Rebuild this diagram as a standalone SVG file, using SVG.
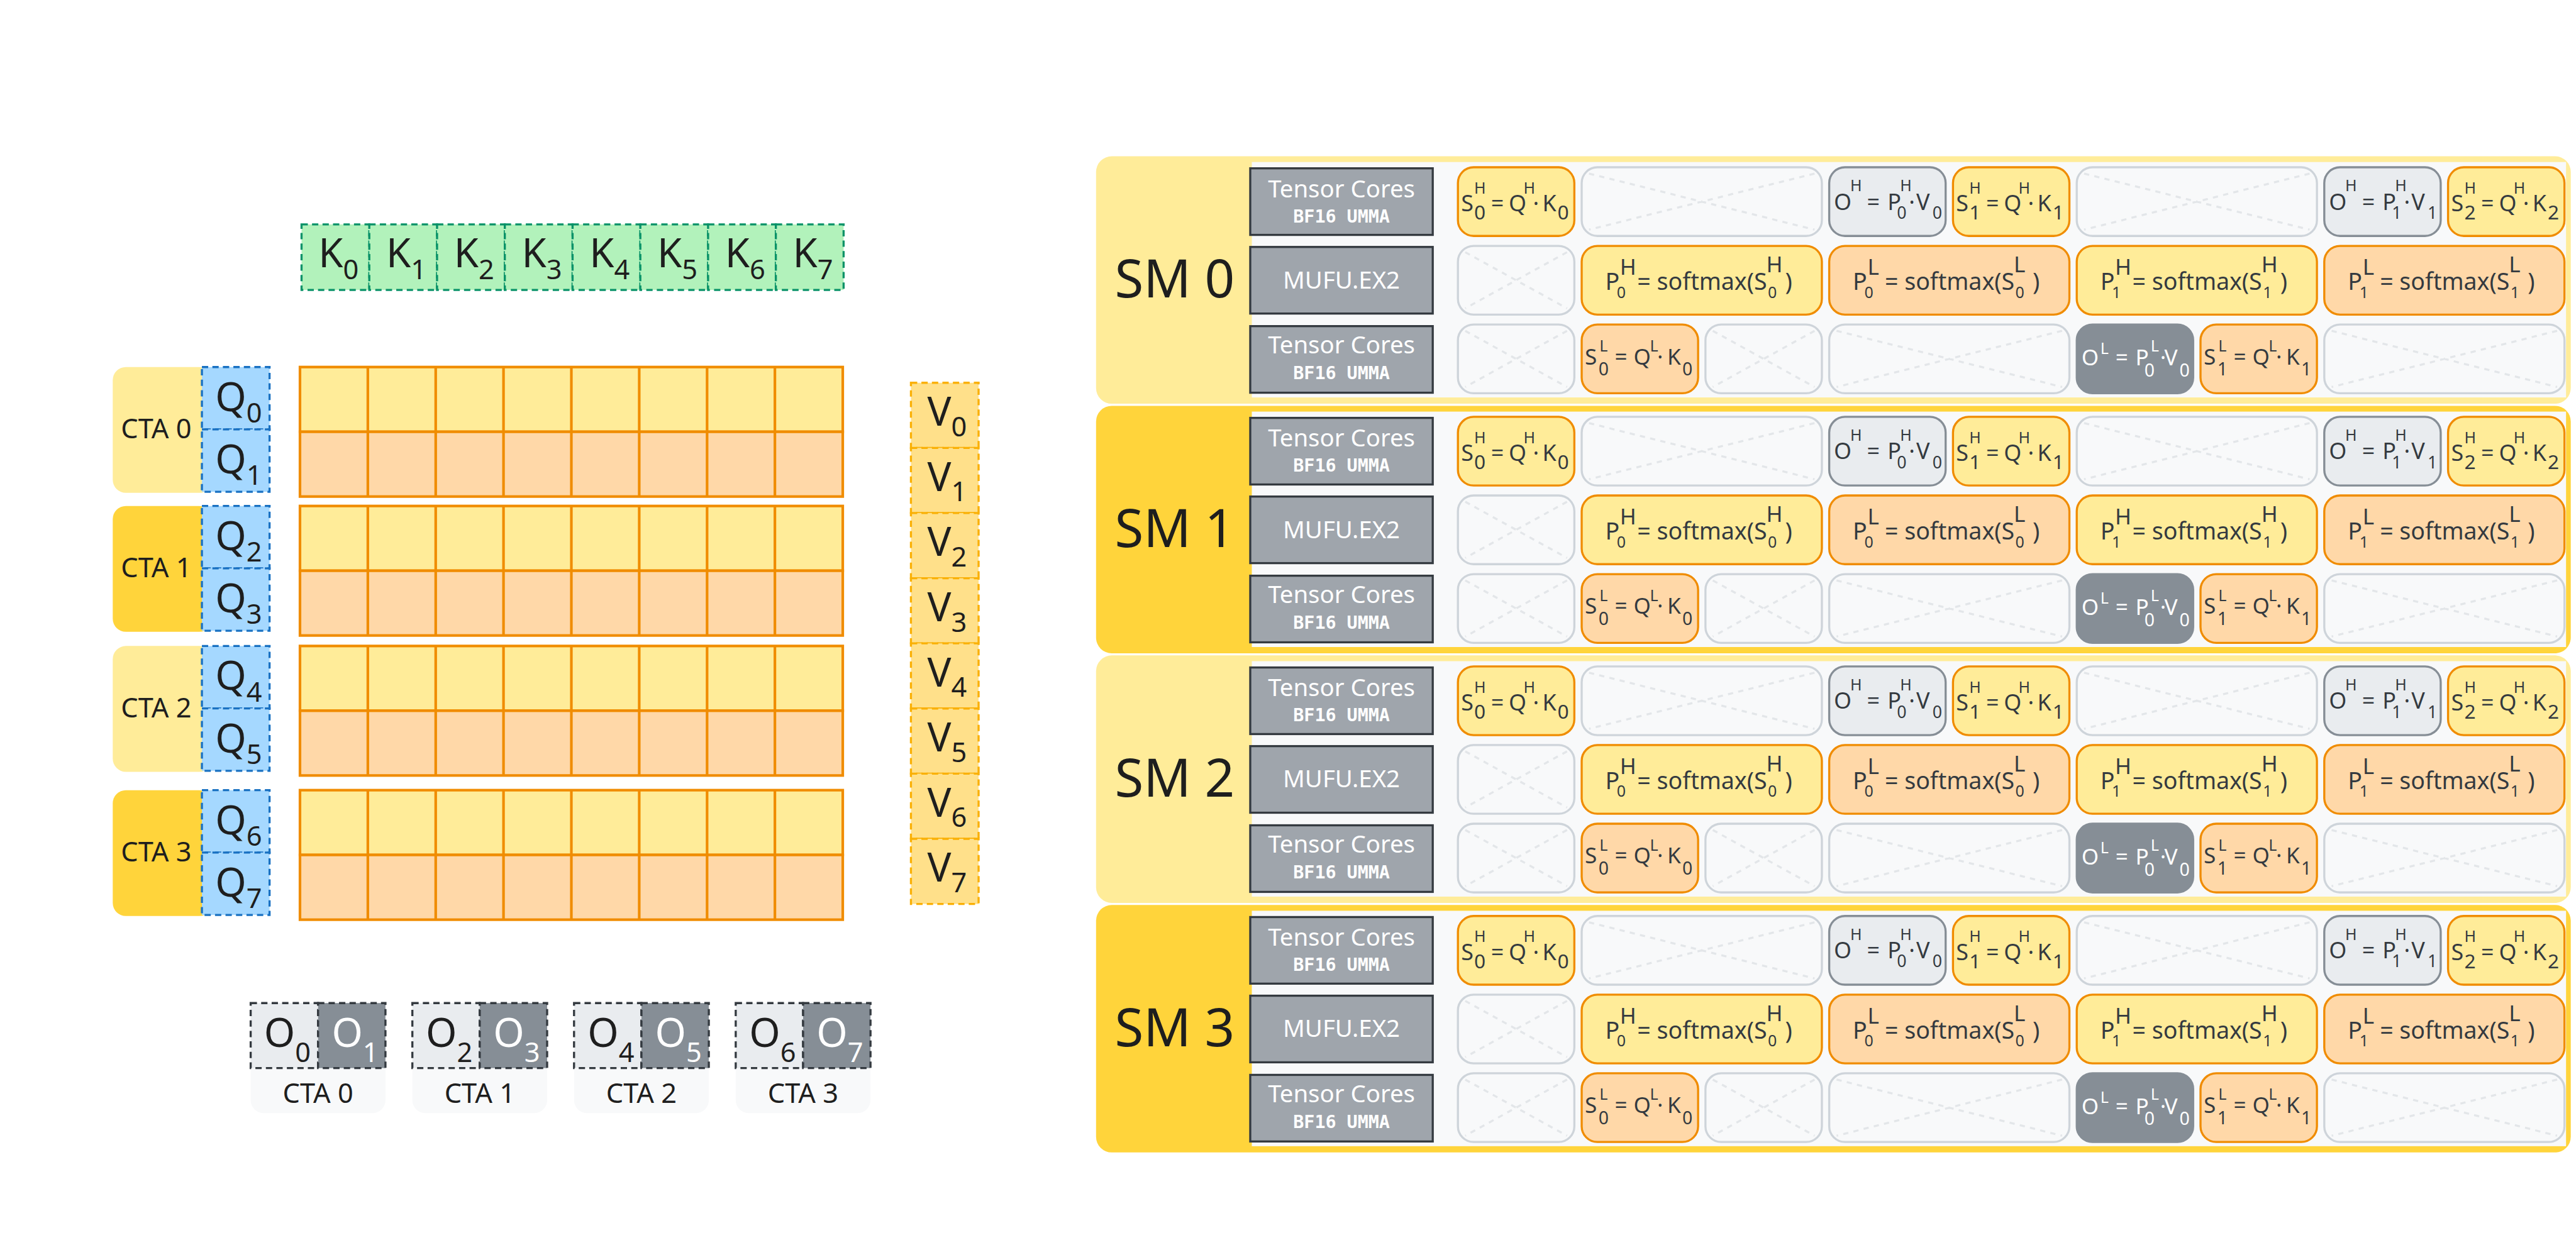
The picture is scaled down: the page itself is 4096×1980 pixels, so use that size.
<svg xmlns="http://www.w3.org/2000/svg" width="4096" height="1980" viewBox="0 0 4096 1980">
<style>
text{font-family:'Noto Sans','Open Sans',sans-serif;fill:#1e1e1e}
.kc{fill:#b2f2bb;stroke:#099268;stroke-width:4;stroke-dasharray:12 8}
.qc{fill:#a5d8ff;stroke:#1971c2;stroke-width:4;stroke-dasharray:12 8}
.vc{fill:#ffe08a;stroke:#fab005;stroke-width:4;stroke-dasharray:12 8}
.ol{fill:#e9ecef;stroke:#343a40;stroke-width:4;stroke-dasharray:12 8}
.od{fill:#868e96;stroke:#343a40;stroke-width:4;stroke-dasharray:12 8}
.lab{font-size:76px;text-anchor:middle}
.bs{font-size:52px}
.my{fill:#ffec99;stroke:#f08c00;stroke-width:5}
.mp{fill:#ffd8a8;stroke:#f08c00;stroke-width:5}
.grid{fill:none;stroke:#f08c00;stroke-width:5}
.lt{fill:#ffec99}.dk{fill:#ffd43b}
.cta{font-size:52px;text-anchor:middle}
.lbg{fill:#f8f9fa}
.panel{fill:#f8f9fa}
.unit{fill:#9fa5ac;stroke:#343a40;stroke-width:4}
.ut{fill:#fff;font-size:46px;text-anchor:middle}
.um{fill:#fff;font-family:'DejaVu Sans Mono',monospace;font-weight:bold;font-size:34px;text-anchor:middle}
.sm{font-size:100px;text-anchor:middle}
.ty{fill:#ffec99;stroke:#f08c00;stroke-width:4}
.tp{fill:#ffd8a8;stroke:#f08c00;stroke-width:4}
.tg{fill:#e9ecef;stroke:#868e96;stroke-width:4}
.td{fill:#868e96;stroke:#868e96;stroke-width:4}
.tx{fill:#f8f9fa;stroke:#ced4da;stroke-width:4}
.xd{fill:none;stroke:#e3e6e9;stroke-width:4;stroke-dasharray:10 10}
text.f{fill:#343a40}
text.w,.w{fill:#fff}
.f1{font-size:43px}.s1{font-size:30px}.u1{font-size:38px}.u4{font-size:32px}
.f2{font-size:45px}.s2{font-size:42px}.u2{font-size:30px}
.f3{font-size:42px}.s3{font-size:30px}.u3{font-size:34px}
</style>
<g transform="scale(0.83388)">
<g id="k-row">
<g id="k0"><rect class="kc" x="575" y="428" width="129.2" height="125"/><text class="lab" x="645.6" y="510">K<tspan class="bs" dy="22">0</tspan></text></g>
<g id="k1"><rect class="kc" x="704.2" y="428" width="129.2" height="125"/><text class="lab" x="774.8" y="510">K<tspan class="bs" dy="22">1</tspan></text></g>
<g id="k2"><rect class="kc" x="833.4" y="428" width="129.2" height="125"/><text class="lab" x="904" y="510">K<tspan class="bs" dy="22">2</tspan></text></g>
<g id="k3"><rect class="kc" x="962.6" y="428" width="129.2" height="125"/><text class="lab" x="1033.2" y="510">K<tspan class="bs" dy="22">3</tspan></text></g>
<g id="k4"><rect class="kc" x="1091.8" y="428" width="129.2" height="125"/><text class="lab" x="1162.4" y="510">K<tspan class="bs" dy="22">4</tspan></text></g>
<g id="k5"><rect class="kc" x="1221" y="428" width="129.2" height="125"/><text class="lab" x="1291.6" y="510">K<tspan class="bs" dy="22">5</tspan></text></g>
<g id="k6"><rect class="kc" x="1350.2" y="428" width="129.2" height="125"/><text class="lab" x="1420.8" y="510">K<tspan class="bs" dy="22">6</tspan></text></g>
<g id="k7"><rect class="kc" x="1479.4" y="428" width="129.2" height="125"/><text class="lab" x="1550" y="510">K<tspan class="bs" dy="22">7</tspan></text></g>
</g>
<g id="cta-labels">
<g id="cta0"><rect class="lt" x="215" y="700" width="190" height="240" rx="25"/><text class="cta" x="298" y="836">CTA 0</text></g>
<g id="cta1"><rect class="dk" x="215" y="965" width="190" height="240" rx="25"/><text class="cta" x="298" y="1101">CTA 1</text></g>
<g id="cta2"><rect class="lt" x="215" y="1232" width="190" height="240" rx="25"/><text class="cta" x="298" y="1368">CTA 2</text></g>
<g id="cta3"><rect class="dk" x="215" y="1507" width="190" height="240" rx="25"/><text class="cta" x="298" y="1643">CTA 3</text></g>
</g>
<g id="q-col">
<g id="q0"><rect class="qc" x="385" y="700" width="129" height="119"/><text class="lab" x="455" y="784">Q<tspan class="bs" dy="22">0</tspan></text></g>
<g id="q1"><rect class="qc" x="385" y="819" width="129" height="119"/><text class="lab" x="455" y="903">Q<tspan class="bs" dy="22">1</tspan></text></g>
<g id="q2"><rect class="qc" x="385" y="965" width="129" height="119"/><text class="lab" x="455" y="1049">Q<tspan class="bs" dy="22">2</tspan></text></g>
<g id="q3"><rect class="qc" x="385" y="1084" width="129" height="119"/><text class="lab" x="455" y="1168">Q<tspan class="bs" dy="22">3</tspan></text></g>
<g id="q4"><rect class="qc" x="385" y="1232" width="129" height="119"/><text class="lab" x="455" y="1316">Q<tspan class="bs" dy="22">4</tspan></text></g>
<g id="q5"><rect class="qc" x="385" y="1351" width="129" height="119"/><text class="lab" x="455" y="1435">Q<tspan class="bs" dy="22">5</tspan></text></g>
<g id="q6"><rect class="qc" x="385" y="1507" width="129" height="119"/><text class="lab" x="455" y="1591">Q<tspan class="bs" dy="22">6</tspan></text></g>
<g id="q7"><rect class="qc" x="385" y="1626" width="129" height="119"/><text class="lab" x="455" y="1710">Q<tspan class="bs" dy="22">7</tspan></text></g>
</g>
<g id="matrix">
<g id="mb0"><rect class="my" x="572" y="700" width="1035" height="123.5"/><rect class="mp" x="572" y="823.5" width="1035" height="123.5"/><path class="grid" d="M701.4 700v247M830.8 700v247M960.1 700v247M1089.5 700v247M1218.9 700v247M1348.3 700v247M1477.6 700v247"/></g>
<g id="mb1"><rect class="my" x="572" y="965" width="1035" height="123.5"/><rect class="mp" x="572" y="1088.5" width="1035" height="123.5"/><path class="grid" d="M701.4 965v247M830.8 965v247M960.1 965v247M1089.5 965v247M1218.9 965v247M1348.3 965v247M1477.6 965v247"/></g>
<g id="mb2"><rect class="my" x="572" y="1232" width="1035" height="123.5"/><rect class="mp" x="572" y="1355.5" width="1035" height="123.5"/><path class="grid" d="M701.4 1232v247M830.8 1232v247M960.1 1232v247M1089.5 1232v247M1218.9 1232v247M1348.3 1232v247M1477.6 1232v247"/></g>
<g id="mb3"><rect class="my" x="572" y="1507" width="1035" height="123.5"/><rect class="mp" x="572" y="1630.5" width="1035" height="123.5"/><path class="grid" d="M701.4 1507v247M830.8 1507v247M960.1 1507v247M1089.5 1507v247M1218.9 1507v247M1348.3 1507v247M1477.6 1507v247"/></g>
</g>
<g id="v-col">
<g id="v0"><rect class="vc" x="1737" y="730" width="129" height="124.25"/><text class="lab" x="1806" y="812">V<tspan class="bs" dy="20">0</tspan></text></g>
<g id="v1"><rect class="vc" x="1737" y="854.25" width="129" height="124.25"/><text class="lab" x="1806" y="936.25">V<tspan class="bs" dy="20">1</tspan></text></g>
<g id="v2"><rect class="vc" x="1737" y="978.5" width="129" height="124.25"/><text class="lab" x="1806" y="1060.5">V<tspan class="bs" dy="20">2</tspan></text></g>
<g id="v3"><rect class="vc" x="1737" y="1102.75" width="129" height="124.25"/><text class="lab" x="1806" y="1184.75">V<tspan class="bs" dy="20">3</tspan></text></g>
<g id="v4"><rect class="vc" x="1737" y="1227" width="129" height="124.25"/><text class="lab" x="1806" y="1309">V<tspan class="bs" dy="20">4</tspan></text></g>
<g id="v5"><rect class="vc" x="1737" y="1351.25" width="129" height="124.25"/><text class="lab" x="1806" y="1433.25">V<tspan class="bs" dy="20">5</tspan></text></g>
<g id="v6"><rect class="vc" x="1737" y="1475.5" width="129" height="124.25"/><text class="lab" x="1806" y="1557.5">V<tspan class="bs" dy="20">6</tspan></text></g>
<g id="v7"><rect class="vc" x="1737" y="1599.75" width="129" height="124.25"/><text class="lab" x="1806" y="1681.75">V<tspan class="bs" dy="20">7</tspan></text></g>
</g>
<g id="o-row">
<g id="o-cta0"><rect class="lbg" x="478" y="1913" width="257" height="210" rx="25"/><rect class="ol" x="478" y="1913" width="128.5" height="124"/><rect class="od" x="606.5" y="1913" width="128.5" height="124"/><text class="lab" x="548" y="1997">O<tspan class="bs" dy="28">0</tspan></text><text class="lab w" x="677" y="1997">O<tspan class="bs w" dy="28">1</tspan></text><text class="cta" x="606.5" y="2104">CTA 0</text></g>
<g id="o-cta1"><rect class="lbg" x="786.3" y="1913" width="257" height="210" rx="25"/><rect class="ol" x="786.3" y="1913" width="128.5" height="124"/><rect class="od" x="914.8" y="1913" width="128.5" height="124"/><text class="lab" x="856.5" y="1997">O<tspan class="bs" dy="28">2</tspan></text><text class="lab w" x="985" y="1997">O<tspan class="bs w" dy="28">3</tspan></text><text class="cta" x="914.8" y="2104">CTA 1</text></g>
<g id="o-cta2"><rect class="lbg" x="1094.6" y="1913" width="257" height="210" rx="25"/><rect class="ol" x="1094.6" y="1913" width="128.5" height="124"/><rect class="od" x="1223.1" y="1913" width="128.5" height="124"/><text class="lab" x="1165" y="1997">O<tspan class="bs" dy="28">4</tspan></text><text class="lab w" x="1293.5" y="1997">O<tspan class="bs w" dy="28">5</tspan></text><text class="cta" x="1223.1" y="2104">CTA 2</text></g>
<g id="o-cta3"><rect class="lbg" x="1402.9" y="1913" width="257" height="210" rx="25"/><rect class="ol" x="1402.9" y="1913" width="128.5" height="124"/><rect class="od" x="1531.4" y="1913" width="128.5" height="124"/><text class="lab" x="1473" y="1997">O<tspan class="bs" dy="28">6</tspan></text><text class="lab w" x="1601.5" y="1997">O<tspan class="bs w" dy="28">7</tspan></text><text class="cta" x="1531.4" y="2104">CTA 3</text></g>
</g>

<g id="sm0" transform="translate(0,298)">
<rect class="lt" x="2090" y="0" width="2812" height="472" rx="30"/>
<rect class="panel" x="2387" y="11" width="2506" height="449"/>
<text class="sm" x="2240" y="269">SM 0</text>
<g id="sm0-tch"><rect class="unit" x="2384" y="23" width="348" height="127"/><text class="ut" x="2558" y="78">Tensor Cores</text><text class="um" x="2558" y="126">BF16 UMMA</text></g>
<g id="sm0-mufu"><rect class="unit" x="2384" y="173" width="348" height="127"/><text class="ut" x="2558" y="252">MUFU.EX2</text></g>
<g id="sm0-tcl"><rect class="unit" x="2384" y="324" width="348" height="127"/><text class="ut" x="2558" y="376">Tensor Cores</text><text class="um" x="2558" y="425">BF16 UMMA</text></g>
<g id="sm0-s0h"><rect class="ty" x="2780" y="21" width="222" height="131" rx="30"/><text class="f f1"><tspan x="2786" y="105">S</tspan><tspan class="u1" x="2811" y="121">0</tspan><tspan class="s1" x="2811" y="71">H</tspan><tspan x="2843" y="105">=</tspan><tspan x="2877" y="105">Q</tspan><tspan class="s1" x="2905" y="71">H</tspan><tspan x="2923" y="105">·</tspan><tspan x="2941" y="105">K</tspan><tspan class="u1" x="2970" y="121">0</tspan></text></g>
<g id="sm0-x1"><rect class="tx" x="3016" y="21" width="458" height="131" rx="30"/><path class="xd" d="M3030 33L3460 140M3460 33L3030 140"/></g>
<g id="sm0-oh0"><rect class="tg" x="3488" y="21" width="222" height="131" rx="30"/><text class="f f1"><tspan x="3497" y="102">O</tspan><tspan class="s1" x="3528" y="67">H</tspan><tspan x="3560" y="102">=</tspan><tspan x="3599" y="102">P</tspan><tspan class="u4" x="3617" y="119">0</tspan><tspan class="s1" x="3623" y="67">H</tspan><tspan x="3640" y="102">·</tspan><tspan x="3654" y="102">V</tspan><tspan class="u4" x="3685" y="119">0</tspan></text></g>
<g id="sm0-s1h"><rect class="ty" x="3724" y="21" width="222" height="131" rx="30"/><text class="f f1"><tspan x="3730" y="105">S</tspan><tspan class="u1" x="3755" y="121">1</tspan><tspan class="s1" x="3755" y="71">H</tspan><tspan x="3787" y="105">=</tspan><tspan x="3821" y="105">Q</tspan><tspan class="s1" x="3849" y="71">H</tspan><tspan x="3867" y="105">·</tspan><tspan x="3885" y="105">K</tspan><tspan class="u1" x="3914" y="121">1</tspan></text></g>
<g id="sm0-x2"><rect class="tx" x="3960" y="21" width="458" height="131" rx="30"/><path class="xd" d="M3974 33L4404 140M4404 33L3974 140"/></g>
<g id="sm0-oh1"><rect class="tg" x="4432" y="21" width="222" height="131" rx="30"/><text class="f f1"><tspan x="4441" y="102">O</tspan><tspan class="s1" x="4472" y="67">H</tspan><tspan x="4504" y="102">=</tspan><tspan x="4543" y="102">P</tspan><tspan class="u4" x="4561" y="119">1</tspan><tspan class="s1" x="4567" y="67">H</tspan><tspan x="4584" y="102">·</tspan><tspan x="4598" y="102">V</tspan><tspan class="u4" x="4629" y="119">1</tspan></text></g>
<g id="sm0-s2h"><rect class="ty" x="4668" y="21" width="222" height="131" rx="30"/><text class="f f1"><tspan x="4674" y="105">S</tspan><tspan class="u1" x="4699" y="121">2</tspan><tspan class="s1" x="4699" y="71">H</tspan><tspan x="4731" y="105">=</tspan><tspan x="4765" y="105">Q</tspan><tspan class="s1" x="4793" y="71">H</tspan><tspan x="4811" y="105">·</tspan><tspan x="4829" y="105">K</tspan><tspan class="u1" x="4858" y="121">2</tspan></text></g>
<g id="sm0-x3"><rect class="tx" x="2780" y="171" width="222" height="131" rx="30"/><path class="xd" d="M2794 183L2988 290M2988 183L2794 290"/></g>
<g id="sm0-p0h"><rect class="ty" x="3016" y="171" width="458" height="131" rx="30"/><text class="f f2"><tspan x="3061" y="255">P</tspan><tspan class="u2" x="3083" y="270">0</tspan><tspan class="s2" x="3089" y="226">H</tspan><tspan x="3122" y="255">= softmax(S</tspan><tspan class="s2" x="3368" y="221">H</tspan><tspan class="u2" x="3371" y="270">0</tspan><tspan x="3404" y="255">)</tspan></text></g>
<g id="sm0-p0l"><rect class="tp" x="3488" y="171" width="458" height="131" rx="30"/><text class="f f2"><tspan x="3533" y="255">P</tspan><tspan class="u2" x="3555" y="270">0</tspan><tspan class="s2" x="3561" y="226">L</tspan><tspan x="3594" y="255">= softmax(S</tspan><tspan class="s2" x="3840" y="221">L</tspan><tspan class="u2" x="3843" y="270">0</tspan><tspan x="3876" y="255">)</tspan></text></g>
<g id="sm0-p1h"><rect class="ty" x="3960" y="171" width="458" height="131" rx="30"/><text class="f f2"><tspan x="4005" y="255">P</tspan><tspan class="u2" x="4027" y="270">1</tspan><tspan class="s2" x="4033" y="226">H</tspan><tspan x="4066" y="255">= softmax(S</tspan><tspan class="s2" x="4312" y="221">H</tspan><tspan class="u2" x="4315" y="270">1</tspan><tspan x="4348" y="255">)</tspan></text></g>
<g id="sm0-p1l"><rect class="tp" x="4432" y="171" width="458" height="131" rx="30"/><text class="f f2"><tspan x="4477" y="255">P</tspan><tspan class="u2" x="4499" y="270">1</tspan><tspan class="s2" x="4505" y="226">L</tspan><tspan x="4538" y="255">= softmax(S</tspan><tspan class="s2" x="4784" y="221">L</tspan><tspan class="u2" x="4787" y="270">1</tspan><tspan x="4820" y="255">)</tspan></text></g>
<g id="sm0-x4"><rect class="tx" x="2780" y="321" width="222" height="131" rx="30"/><path class="xd" d="M2794 333L2988 440M2988 333L2794 440"/></g>
<g id="sm0-s0l"><rect class="tp" x="3016" y="321" width="222" height="131" rx="30"/><text class="f f3"><tspan x="3022" y="397">S</tspan><tspan class="s3" x="3050" y="372">L</tspan><tspan class="u3" x="3048" y="418">0</tspan><tspan x="3079" y="397">=</tspan><tspan x="3115" y="397">Q</tspan><tspan class="s3" x="3146" y="372">L</tspan><tspan x="3160" y="397">·</tspan><tspan x="3179" y="397">K</tspan><tspan class="u3" x="3208" y="418">0</tspan></text></g>
<g id="sm0-x5"><rect class="tx" x="3252" y="321" width="222" height="131" rx="30"/><path class="xd" d="M3266 333L3460 440M3460 333L3266 440"/></g>
<g id="sm0-x6"><rect class="tx" x="3488" y="321" width="458" height="131" rx="30"/><path class="xd" d="M3502 333L3932 440M3932 333L3502 440"/></g>
<g id="sm0-ol"><rect class="td" x="3960" y="321" width="222" height="131" rx="30"/><text class="w f3"><tspan x="3969" y="399">O</tspan><tspan class="s3" x="4005" y="377">L</tspan><tspan x="4034" y="399">=</tspan><tspan x="4072" y="399">P</tspan><tspan class="u3" x="4089" y="420">0</tspan><tspan class="s3" x="4101" y="372">L</tspan><tspan x="4119" y="399">·</tspan><tspan x="4127" y="399">V</tspan><tspan class="u3" x="4156" y="420">0</tspan></text></g>
<g id="sm0-s1l"><rect class="tp" x="4196" y="321" width="222" height="131" rx="30"/><text class="f f3"><tspan x="4202" y="397">S</tspan><tspan class="s3" x="4230" y="372">L</tspan><tspan class="u3" x="4228" y="418">1</tspan><tspan x="4259" y="397">=</tspan><tspan x="4295" y="397">Q</tspan><tspan class="s3" x="4326" y="372">L</tspan><tspan x="4340" y="397">·</tspan><tspan x="4359" y="397">K</tspan><tspan class="u3" x="4388" y="418">1</tspan></text></g>
<g id="sm0-x7"><rect class="tx" x="4432" y="321" width="458" height="131" rx="30"/><path class="xd" d="M4446 333L4876 440M4876 333L4446 440"/></g>
</g>

<g id="sm1" transform="translate(0,774)">
<rect class="dk" x="2090" y="0" width="2812" height="472" rx="30"/>
<rect class="panel" x="2387" y="11" width="2506" height="449"/>
<text class="sm" x="2240" y="269">SM 1</text>
<g id="sm1-tch"><rect class="unit" x="2384" y="23" width="348" height="127"/><text class="ut" x="2558" y="78">Tensor Cores</text><text class="um" x="2558" y="126">BF16 UMMA</text></g>
<g id="sm1-mufu"><rect class="unit" x="2384" y="173" width="348" height="127"/><text class="ut" x="2558" y="252">MUFU.EX2</text></g>
<g id="sm1-tcl"><rect class="unit" x="2384" y="324" width="348" height="127"/><text class="ut" x="2558" y="376">Tensor Cores</text><text class="um" x="2558" y="425">BF16 UMMA</text></g>
<g id="sm1-s0h"><rect class="ty" x="2780" y="21" width="222" height="131" rx="30"/><text class="f f1"><tspan x="2786" y="105">S</tspan><tspan class="u1" x="2811" y="121">0</tspan><tspan class="s1" x="2811" y="71">H</tspan><tspan x="2843" y="105">=</tspan><tspan x="2877" y="105">Q</tspan><tspan class="s1" x="2905" y="71">H</tspan><tspan x="2923" y="105">·</tspan><tspan x="2941" y="105">K</tspan><tspan class="u1" x="2970" y="121">0</tspan></text></g>
<g id="sm1-x1"><rect class="tx" x="3016" y="21" width="458" height="131" rx="30"/><path class="xd" d="M3030 33L3460 140M3460 33L3030 140"/></g>
<g id="sm1-oh0"><rect class="tg" x="3488" y="21" width="222" height="131" rx="30"/><text class="f f1"><tspan x="3497" y="102">O</tspan><tspan class="s1" x="3528" y="67">H</tspan><tspan x="3560" y="102">=</tspan><tspan x="3599" y="102">P</tspan><tspan class="u4" x="3617" y="119">0</tspan><tspan class="s1" x="3623" y="67">H</tspan><tspan x="3640" y="102">·</tspan><tspan x="3654" y="102">V</tspan><tspan class="u4" x="3685" y="119">0</tspan></text></g>
<g id="sm1-s1h"><rect class="ty" x="3724" y="21" width="222" height="131" rx="30"/><text class="f f1"><tspan x="3730" y="105">S</tspan><tspan class="u1" x="3755" y="121">1</tspan><tspan class="s1" x="3755" y="71">H</tspan><tspan x="3787" y="105">=</tspan><tspan x="3821" y="105">Q</tspan><tspan class="s1" x="3849" y="71">H</tspan><tspan x="3867" y="105">·</tspan><tspan x="3885" y="105">K</tspan><tspan class="u1" x="3914" y="121">1</tspan></text></g>
<g id="sm1-x2"><rect class="tx" x="3960" y="21" width="458" height="131" rx="30"/><path class="xd" d="M3974 33L4404 140M4404 33L3974 140"/></g>
<g id="sm1-oh1"><rect class="tg" x="4432" y="21" width="222" height="131" rx="30"/><text class="f f1"><tspan x="4441" y="102">O</tspan><tspan class="s1" x="4472" y="67">H</tspan><tspan x="4504" y="102">=</tspan><tspan x="4543" y="102">P</tspan><tspan class="u4" x="4561" y="119">1</tspan><tspan class="s1" x="4567" y="67">H</tspan><tspan x="4584" y="102">·</tspan><tspan x="4598" y="102">V</tspan><tspan class="u4" x="4629" y="119">1</tspan></text></g>
<g id="sm1-s2h"><rect class="ty" x="4668" y="21" width="222" height="131" rx="30"/><text class="f f1"><tspan x="4674" y="105">S</tspan><tspan class="u1" x="4699" y="121">2</tspan><tspan class="s1" x="4699" y="71">H</tspan><tspan x="4731" y="105">=</tspan><tspan x="4765" y="105">Q</tspan><tspan class="s1" x="4793" y="71">H</tspan><tspan x="4811" y="105">·</tspan><tspan x="4829" y="105">K</tspan><tspan class="u1" x="4858" y="121">2</tspan></text></g>
<g id="sm1-x3"><rect class="tx" x="2780" y="171" width="222" height="131" rx="30"/><path class="xd" d="M2794 183L2988 290M2988 183L2794 290"/></g>
<g id="sm1-p0h"><rect class="ty" x="3016" y="171" width="458" height="131" rx="30"/><text class="f f2"><tspan x="3061" y="255">P</tspan><tspan class="u2" x="3083" y="270">0</tspan><tspan class="s2" x="3089" y="226">H</tspan><tspan x="3122" y="255">= softmax(S</tspan><tspan class="s2" x="3368" y="221">H</tspan><tspan class="u2" x="3371" y="270">0</tspan><tspan x="3404" y="255">)</tspan></text></g>
<g id="sm1-p0l"><rect class="tp" x="3488" y="171" width="458" height="131" rx="30"/><text class="f f2"><tspan x="3533" y="255">P</tspan><tspan class="u2" x="3555" y="270">0</tspan><tspan class="s2" x="3561" y="226">L</tspan><tspan x="3594" y="255">= softmax(S</tspan><tspan class="s2" x="3840" y="221">L</tspan><tspan class="u2" x="3843" y="270">0</tspan><tspan x="3876" y="255">)</tspan></text></g>
<g id="sm1-p1h"><rect class="ty" x="3960" y="171" width="458" height="131" rx="30"/><text class="f f2"><tspan x="4005" y="255">P</tspan><tspan class="u2" x="4027" y="270">1</tspan><tspan class="s2" x="4033" y="226">H</tspan><tspan x="4066" y="255">= softmax(S</tspan><tspan class="s2" x="4312" y="221">H</tspan><tspan class="u2" x="4315" y="270">1</tspan><tspan x="4348" y="255">)</tspan></text></g>
<g id="sm1-p1l"><rect class="tp" x="4432" y="171" width="458" height="131" rx="30"/><text class="f f2"><tspan x="4477" y="255">P</tspan><tspan class="u2" x="4499" y="270">1</tspan><tspan class="s2" x="4505" y="226">L</tspan><tspan x="4538" y="255">= softmax(S</tspan><tspan class="s2" x="4784" y="221">L</tspan><tspan class="u2" x="4787" y="270">1</tspan><tspan x="4820" y="255">)</tspan></text></g>
<g id="sm1-x4"><rect class="tx" x="2780" y="321" width="222" height="131" rx="30"/><path class="xd" d="M2794 333L2988 440M2988 333L2794 440"/></g>
<g id="sm1-s0l"><rect class="tp" x="3016" y="321" width="222" height="131" rx="30"/><text class="f f3"><tspan x="3022" y="397">S</tspan><tspan class="s3" x="3050" y="372">L</tspan><tspan class="u3" x="3048" y="418">0</tspan><tspan x="3079" y="397">=</tspan><tspan x="3115" y="397">Q</tspan><tspan class="s3" x="3146" y="372">L</tspan><tspan x="3160" y="397">·</tspan><tspan x="3179" y="397">K</tspan><tspan class="u3" x="3208" y="418">0</tspan></text></g>
<g id="sm1-x5"><rect class="tx" x="3252" y="321" width="222" height="131" rx="30"/><path class="xd" d="M3266 333L3460 440M3460 333L3266 440"/></g>
<g id="sm1-x6"><rect class="tx" x="3488" y="321" width="458" height="131" rx="30"/><path class="xd" d="M3502 333L3932 440M3932 333L3502 440"/></g>
<g id="sm1-ol"><rect class="td" x="3960" y="321" width="222" height="131" rx="30"/><text class="w f3"><tspan x="3969" y="399">O</tspan><tspan class="s3" x="4005" y="377">L</tspan><tspan x="4034" y="399">=</tspan><tspan x="4072" y="399">P</tspan><tspan class="u3" x="4089" y="420">0</tspan><tspan class="s3" x="4101" y="372">L</tspan><tspan x="4119" y="399">·</tspan><tspan x="4127" y="399">V</tspan><tspan class="u3" x="4156" y="420">0</tspan></text></g>
<g id="sm1-s1l"><rect class="tp" x="4196" y="321" width="222" height="131" rx="30"/><text class="f f3"><tspan x="4202" y="397">S</tspan><tspan class="s3" x="4230" y="372">L</tspan><tspan class="u3" x="4228" y="418">1</tspan><tspan x="4259" y="397">=</tspan><tspan x="4295" y="397">Q</tspan><tspan class="s3" x="4326" y="372">L</tspan><tspan x="4340" y="397">·</tspan><tspan x="4359" y="397">K</tspan><tspan class="u3" x="4388" y="418">1</tspan></text></g>
<g id="sm1-x7"><rect class="tx" x="4432" y="321" width="458" height="131" rx="30"/><path class="xd" d="M4446 333L4876 440M4876 333L4446 440"/></g>
</g>

<g id="sm2" transform="translate(0,1250)">
<rect class="lt" x="2090" y="0" width="2812" height="472" rx="30"/>
<rect class="panel" x="2387" y="11" width="2506" height="449"/>
<text class="sm" x="2240" y="269">SM 2</text>
<g id="sm2-tch"><rect class="unit" x="2384" y="23" width="348" height="127"/><text class="ut" x="2558" y="78">Tensor Cores</text><text class="um" x="2558" y="126">BF16 UMMA</text></g>
<g id="sm2-mufu"><rect class="unit" x="2384" y="173" width="348" height="127"/><text class="ut" x="2558" y="252">MUFU.EX2</text></g>
<g id="sm2-tcl"><rect class="unit" x="2384" y="324" width="348" height="127"/><text class="ut" x="2558" y="376">Tensor Cores</text><text class="um" x="2558" y="425">BF16 UMMA</text></g>
<g id="sm2-s0h"><rect class="ty" x="2780" y="21" width="222" height="131" rx="30"/><text class="f f1"><tspan x="2786" y="105">S</tspan><tspan class="u1" x="2811" y="121">0</tspan><tspan class="s1" x="2811" y="71">H</tspan><tspan x="2843" y="105">=</tspan><tspan x="2877" y="105">Q</tspan><tspan class="s1" x="2905" y="71">H</tspan><tspan x="2923" y="105">·</tspan><tspan x="2941" y="105">K</tspan><tspan class="u1" x="2970" y="121">0</tspan></text></g>
<g id="sm2-x1"><rect class="tx" x="3016" y="21" width="458" height="131" rx="30"/><path class="xd" d="M3030 33L3460 140M3460 33L3030 140"/></g>
<g id="sm2-oh0"><rect class="tg" x="3488" y="21" width="222" height="131" rx="30"/><text class="f f1"><tspan x="3497" y="102">O</tspan><tspan class="s1" x="3528" y="67">H</tspan><tspan x="3560" y="102">=</tspan><tspan x="3599" y="102">P</tspan><tspan class="u4" x="3617" y="119">0</tspan><tspan class="s1" x="3623" y="67">H</tspan><tspan x="3640" y="102">·</tspan><tspan x="3654" y="102">V</tspan><tspan class="u4" x="3685" y="119">0</tspan></text></g>
<g id="sm2-s1h"><rect class="ty" x="3724" y="21" width="222" height="131" rx="30"/><text class="f f1"><tspan x="3730" y="105">S</tspan><tspan class="u1" x="3755" y="121">1</tspan><tspan class="s1" x="3755" y="71">H</tspan><tspan x="3787" y="105">=</tspan><tspan x="3821" y="105">Q</tspan><tspan class="s1" x="3849" y="71">H</tspan><tspan x="3867" y="105">·</tspan><tspan x="3885" y="105">K</tspan><tspan class="u1" x="3914" y="121">1</tspan></text></g>
<g id="sm2-x2"><rect class="tx" x="3960" y="21" width="458" height="131" rx="30"/><path class="xd" d="M3974 33L4404 140M4404 33L3974 140"/></g>
<g id="sm2-oh1"><rect class="tg" x="4432" y="21" width="222" height="131" rx="30"/><text class="f f1"><tspan x="4441" y="102">O</tspan><tspan class="s1" x="4472" y="67">H</tspan><tspan x="4504" y="102">=</tspan><tspan x="4543" y="102">P</tspan><tspan class="u4" x="4561" y="119">1</tspan><tspan class="s1" x="4567" y="67">H</tspan><tspan x="4584" y="102">·</tspan><tspan x="4598" y="102">V</tspan><tspan class="u4" x="4629" y="119">1</tspan></text></g>
<g id="sm2-s2h"><rect class="ty" x="4668" y="21" width="222" height="131" rx="30"/><text class="f f1"><tspan x="4674" y="105">S</tspan><tspan class="u1" x="4699" y="121">2</tspan><tspan class="s1" x="4699" y="71">H</tspan><tspan x="4731" y="105">=</tspan><tspan x="4765" y="105">Q</tspan><tspan class="s1" x="4793" y="71">H</tspan><tspan x="4811" y="105">·</tspan><tspan x="4829" y="105">K</tspan><tspan class="u1" x="4858" y="121">2</tspan></text></g>
<g id="sm2-x3"><rect class="tx" x="2780" y="171" width="222" height="131" rx="30"/><path class="xd" d="M2794 183L2988 290M2988 183L2794 290"/></g>
<g id="sm2-p0h"><rect class="ty" x="3016" y="171" width="458" height="131" rx="30"/><text class="f f2"><tspan x="3061" y="255">P</tspan><tspan class="u2" x="3083" y="270">0</tspan><tspan class="s2" x="3089" y="226">H</tspan><tspan x="3122" y="255">= softmax(S</tspan><tspan class="s2" x="3368" y="221">H</tspan><tspan class="u2" x="3371" y="270">0</tspan><tspan x="3404" y="255">)</tspan></text></g>
<g id="sm2-p0l"><rect class="tp" x="3488" y="171" width="458" height="131" rx="30"/><text class="f f2"><tspan x="3533" y="255">P</tspan><tspan class="u2" x="3555" y="270">0</tspan><tspan class="s2" x="3561" y="226">L</tspan><tspan x="3594" y="255">= softmax(S</tspan><tspan class="s2" x="3840" y="221">L</tspan><tspan class="u2" x="3843" y="270">0</tspan><tspan x="3876" y="255">)</tspan></text></g>
<g id="sm2-p1h"><rect class="ty" x="3960" y="171" width="458" height="131" rx="30"/><text class="f f2"><tspan x="4005" y="255">P</tspan><tspan class="u2" x="4027" y="270">1</tspan><tspan class="s2" x="4033" y="226">H</tspan><tspan x="4066" y="255">= softmax(S</tspan><tspan class="s2" x="4312" y="221">H</tspan><tspan class="u2" x="4315" y="270">1</tspan><tspan x="4348" y="255">)</tspan></text></g>
<g id="sm2-p1l"><rect class="tp" x="4432" y="171" width="458" height="131" rx="30"/><text class="f f2"><tspan x="4477" y="255">P</tspan><tspan class="u2" x="4499" y="270">1</tspan><tspan class="s2" x="4505" y="226">L</tspan><tspan x="4538" y="255">= softmax(S</tspan><tspan class="s2" x="4784" y="221">L</tspan><tspan class="u2" x="4787" y="270">1</tspan><tspan x="4820" y="255">)</tspan></text></g>
<g id="sm2-x4"><rect class="tx" x="2780" y="321" width="222" height="131" rx="30"/><path class="xd" d="M2794 333L2988 440M2988 333L2794 440"/></g>
<g id="sm2-s0l"><rect class="tp" x="3016" y="321" width="222" height="131" rx="30"/><text class="f f3"><tspan x="3022" y="397">S</tspan><tspan class="s3" x="3050" y="372">L</tspan><tspan class="u3" x="3048" y="418">0</tspan><tspan x="3079" y="397">=</tspan><tspan x="3115" y="397">Q</tspan><tspan class="s3" x="3146" y="372">L</tspan><tspan x="3160" y="397">·</tspan><tspan x="3179" y="397">K</tspan><tspan class="u3" x="3208" y="418">0</tspan></text></g>
<g id="sm2-x5"><rect class="tx" x="3252" y="321" width="222" height="131" rx="30"/><path class="xd" d="M3266 333L3460 440M3460 333L3266 440"/></g>
<g id="sm2-x6"><rect class="tx" x="3488" y="321" width="458" height="131" rx="30"/><path class="xd" d="M3502 333L3932 440M3932 333L3502 440"/></g>
<g id="sm2-ol"><rect class="td" x="3960" y="321" width="222" height="131" rx="30"/><text class="w f3"><tspan x="3969" y="399">O</tspan><tspan class="s3" x="4005" y="377">L</tspan><tspan x="4034" y="399">=</tspan><tspan x="4072" y="399">P</tspan><tspan class="u3" x="4089" y="420">0</tspan><tspan class="s3" x="4101" y="372">L</tspan><tspan x="4119" y="399">·</tspan><tspan x="4127" y="399">V</tspan><tspan class="u3" x="4156" y="420">0</tspan></text></g>
<g id="sm2-s1l"><rect class="tp" x="4196" y="321" width="222" height="131" rx="30"/><text class="f f3"><tspan x="4202" y="397">S</tspan><tspan class="s3" x="4230" y="372">L</tspan><tspan class="u3" x="4228" y="418">1</tspan><tspan x="4259" y="397">=</tspan><tspan x="4295" y="397">Q</tspan><tspan class="s3" x="4326" y="372">L</tspan><tspan x="4340" y="397">·</tspan><tspan x="4359" y="397">K</tspan><tspan class="u3" x="4388" y="418">1</tspan></text></g>
<g id="sm2-x7"><rect class="tx" x="4432" y="321" width="458" height="131" rx="30"/><path class="xd" d="M4446 333L4876 440M4876 333L4446 440"/></g>
</g>

<g id="sm3" transform="translate(0,1726)">
<rect class="dk" x="2090" y="0" width="2812" height="472" rx="30"/>
<rect class="panel" x="2387" y="11" width="2506" height="449"/>
<text class="sm" x="2240" y="269">SM 3</text>
<g id="sm3-tch"><rect class="unit" x="2384" y="23" width="348" height="127"/><text class="ut" x="2558" y="78">Tensor Cores</text><text class="um" x="2558" y="126">BF16 UMMA</text></g>
<g id="sm3-mufu"><rect class="unit" x="2384" y="173" width="348" height="127"/><text class="ut" x="2558" y="252">MUFU.EX2</text></g>
<g id="sm3-tcl"><rect class="unit" x="2384" y="324" width="348" height="127"/><text class="ut" x="2558" y="376">Tensor Cores</text><text class="um" x="2558" y="425">BF16 UMMA</text></g>
<g id="sm3-s0h"><rect class="ty" x="2780" y="21" width="222" height="131" rx="30"/><text class="f f1"><tspan x="2786" y="105">S</tspan><tspan class="u1" x="2811" y="121">0</tspan><tspan class="s1" x="2811" y="71">H</tspan><tspan x="2843" y="105">=</tspan><tspan x="2877" y="105">Q</tspan><tspan class="s1" x="2905" y="71">H</tspan><tspan x="2923" y="105">·</tspan><tspan x="2941" y="105">K</tspan><tspan class="u1" x="2970" y="121">0</tspan></text></g>
<g id="sm3-x1"><rect class="tx" x="3016" y="21" width="458" height="131" rx="30"/><path class="xd" d="M3030 33L3460 140M3460 33L3030 140"/></g>
<g id="sm3-oh0"><rect class="tg" x="3488" y="21" width="222" height="131" rx="30"/><text class="f f1"><tspan x="3497" y="102">O</tspan><tspan class="s1" x="3528" y="67">H</tspan><tspan x="3560" y="102">=</tspan><tspan x="3599" y="102">P</tspan><tspan class="u4" x="3617" y="119">0</tspan><tspan class="s1" x="3623" y="67">H</tspan><tspan x="3640" y="102">·</tspan><tspan x="3654" y="102">V</tspan><tspan class="u4" x="3685" y="119">0</tspan></text></g>
<g id="sm3-s1h"><rect class="ty" x="3724" y="21" width="222" height="131" rx="30"/><text class="f f1"><tspan x="3730" y="105">S</tspan><tspan class="u1" x="3755" y="121">1</tspan><tspan class="s1" x="3755" y="71">H</tspan><tspan x="3787" y="105">=</tspan><tspan x="3821" y="105">Q</tspan><tspan class="s1" x="3849" y="71">H</tspan><tspan x="3867" y="105">·</tspan><tspan x="3885" y="105">K</tspan><tspan class="u1" x="3914" y="121">1</tspan></text></g>
<g id="sm3-x2"><rect class="tx" x="3960" y="21" width="458" height="131" rx="30"/><path class="xd" d="M3974 33L4404 140M4404 33L3974 140"/></g>
<g id="sm3-oh1"><rect class="tg" x="4432" y="21" width="222" height="131" rx="30"/><text class="f f1"><tspan x="4441" y="102">O</tspan><tspan class="s1" x="4472" y="67">H</tspan><tspan x="4504" y="102">=</tspan><tspan x="4543" y="102">P</tspan><tspan class="u4" x="4561" y="119">1</tspan><tspan class="s1" x="4567" y="67">H</tspan><tspan x="4584" y="102">·</tspan><tspan x="4598" y="102">V</tspan><tspan class="u4" x="4629" y="119">1</tspan></text></g>
<g id="sm3-s2h"><rect class="ty" x="4668" y="21" width="222" height="131" rx="30"/><text class="f f1"><tspan x="4674" y="105">S</tspan><tspan class="u1" x="4699" y="121">2</tspan><tspan class="s1" x="4699" y="71">H</tspan><tspan x="4731" y="105">=</tspan><tspan x="4765" y="105">Q</tspan><tspan class="s1" x="4793" y="71">H</tspan><tspan x="4811" y="105">·</tspan><tspan x="4829" y="105">K</tspan><tspan class="u1" x="4858" y="121">2</tspan></text></g>
<g id="sm3-x3"><rect class="tx" x="2780" y="171" width="222" height="131" rx="30"/><path class="xd" d="M2794 183L2988 290M2988 183L2794 290"/></g>
<g id="sm3-p0h"><rect class="ty" x="3016" y="171" width="458" height="131" rx="30"/><text class="f f2"><tspan x="3061" y="255">P</tspan><tspan class="u2" x="3083" y="270">0</tspan><tspan class="s2" x="3089" y="226">H</tspan><tspan x="3122" y="255">= softmax(S</tspan><tspan class="s2" x="3368" y="221">H</tspan><tspan class="u2" x="3371" y="270">0</tspan><tspan x="3404" y="255">)</tspan></text></g>
<g id="sm3-p0l"><rect class="tp" x="3488" y="171" width="458" height="131" rx="30"/><text class="f f2"><tspan x="3533" y="255">P</tspan><tspan class="u2" x="3555" y="270">0</tspan><tspan class="s2" x="3561" y="226">L</tspan><tspan x="3594" y="255">= softmax(S</tspan><tspan class="s2" x="3840" y="221">L</tspan><tspan class="u2" x="3843" y="270">0</tspan><tspan x="3876" y="255">)</tspan></text></g>
<g id="sm3-p1h"><rect class="ty" x="3960" y="171" width="458" height="131" rx="30"/><text class="f f2"><tspan x="4005" y="255">P</tspan><tspan class="u2" x="4027" y="270">1</tspan><tspan class="s2" x="4033" y="226">H</tspan><tspan x="4066" y="255">= softmax(S</tspan><tspan class="s2" x="4312" y="221">H</tspan><tspan class="u2" x="4315" y="270">1</tspan><tspan x="4348" y="255">)</tspan></text></g>
<g id="sm3-p1l"><rect class="tp" x="4432" y="171" width="458" height="131" rx="30"/><text class="f f2"><tspan x="4477" y="255">P</tspan><tspan class="u2" x="4499" y="270">1</tspan><tspan class="s2" x="4505" y="226">L</tspan><tspan x="4538" y="255">= softmax(S</tspan><tspan class="s2" x="4784" y="221">L</tspan><tspan class="u2" x="4787" y="270">1</tspan><tspan x="4820" y="255">)</tspan></text></g>
<g id="sm3-x4"><rect class="tx" x="2780" y="321" width="222" height="131" rx="30"/><path class="xd" d="M2794 333L2988 440M2988 333L2794 440"/></g>
<g id="sm3-s0l"><rect class="tp" x="3016" y="321" width="222" height="131" rx="30"/><text class="f f3"><tspan x="3022" y="397">S</tspan><tspan class="s3" x="3050" y="372">L</tspan><tspan class="u3" x="3048" y="418">0</tspan><tspan x="3079" y="397">=</tspan><tspan x="3115" y="397">Q</tspan><tspan class="s3" x="3146" y="372">L</tspan><tspan x="3160" y="397">·</tspan><tspan x="3179" y="397">K</tspan><tspan class="u3" x="3208" y="418">0</tspan></text></g>
<g id="sm3-x5"><rect class="tx" x="3252" y="321" width="222" height="131" rx="30"/><path class="xd" d="M3266 333L3460 440M3460 333L3266 440"/></g>
<g id="sm3-x6"><rect class="tx" x="3488" y="321" width="458" height="131" rx="30"/><path class="xd" d="M3502 333L3932 440M3932 333L3502 440"/></g>
<g id="sm3-ol"><rect class="td" x="3960" y="321" width="222" height="131" rx="30"/><text class="w f3"><tspan x="3969" y="399">O</tspan><tspan class="s3" x="4005" y="377">L</tspan><tspan x="4034" y="399">=</tspan><tspan x="4072" y="399">P</tspan><tspan class="u3" x="4089" y="420">0</tspan><tspan class="s3" x="4101" y="372">L</tspan><tspan x="4119" y="399">·</tspan><tspan x="4127" y="399">V</tspan><tspan class="u3" x="4156" y="420">0</tspan></text></g>
<g id="sm3-s1l"><rect class="tp" x="4196" y="321" width="222" height="131" rx="30"/><text class="f f3"><tspan x="4202" y="397">S</tspan><tspan class="s3" x="4230" y="372">L</tspan><tspan class="u3" x="4228" y="418">1</tspan><tspan x="4259" y="397">=</tspan><tspan x="4295" y="397">Q</tspan><tspan class="s3" x="4326" y="372">L</tspan><tspan x="4340" y="397">·</tspan><tspan x="4359" y="397">K</tspan><tspan class="u3" x="4388" y="418">1</tspan></text></g>
<g id="sm3-x7"><rect class="tx" x="4432" y="321" width="458" height="131" rx="30"/><path class="xd" d="M4446 333L4876 440M4876 333L4446 440"/></g>
</g>
<g id="connectors"></g>
</g>
</svg>
